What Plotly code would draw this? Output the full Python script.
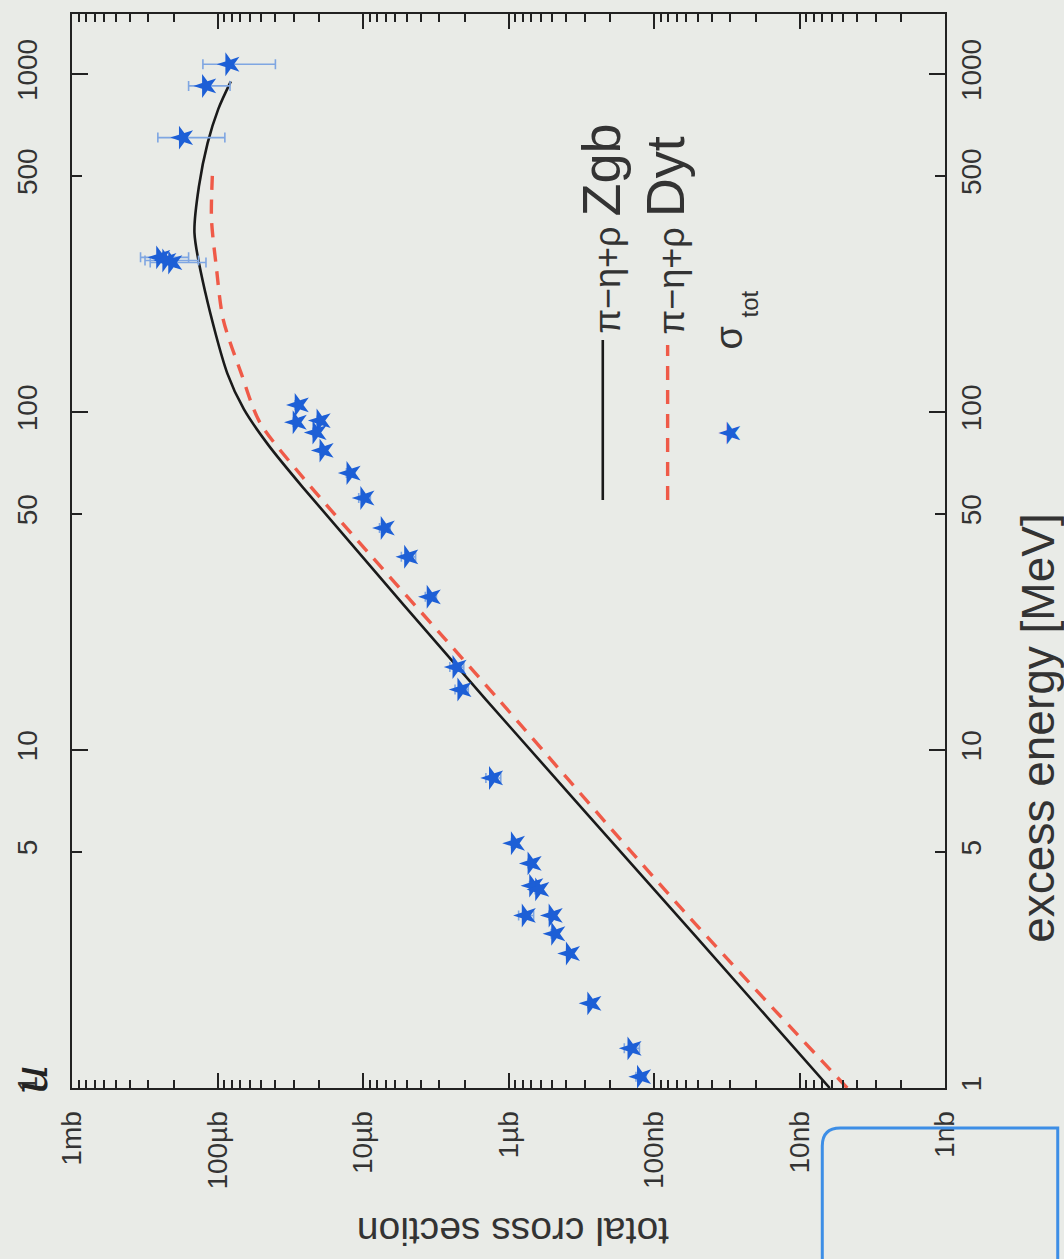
import plotly.graph_objects as go

# ---------------- data (cross sections in microbarn, energies in MeV) ----------------
data_energy = [1070, 923, 649, 287, 281, 277, 105, 93.3, 94.4, 87, 77, 66, 55.7, 45.4,
               37.3, 28.4, 17.6, 15.1, 8.27, 5.30, 4.62, 3.97, 3.87, 3.24, 3.24, 2.86,
               2.50, 1.78, 1.31, 1.08]
data_sigma = [83, 120, 173, 248, 225, 205, 27.7, 28.6, 19.6, 20.9, 18.7, 12.2, 9.8, 7.1,
              4.9, 3.43, 2.28, 2.11, 1.28, 0.905, 0.695, 0.677, 0.616, 0.762, 0.498, 0.478,
              0.379, 0.270, 0.143, 0.123]
data_err = [43, 38, 84, 90, 90, 85, 1.6, 1.6, 1.1, 1.2, 1.1, 0.8, 0.9, 0.6,
            0.55, 0.3, 0.25, 0.22, 0.15, 0.05, 0.04, 0.04, 0.04, 0.09, 0.03, 0.03,
            0.02, 0.015, 0.017, 0.01]

zgb_energy = [1, 2.82, 14.1, 60, 80, 102, 130, 225, 339, 467, 625, 788, 952]
zgb_sigma = [0.0062, 0.052, 1.43, 26.0, 44.8, 65.9, 85.5, 121, 144, 134, 117, 98.8, 81]

dyt_energy = [1, 3.37, 14.4, 64.1, 93.6, 130, 188, 270, 373, 524]
dyt_sigma = [0.0047, 0.0637, 1.22, 25.9, 51.4, 68.6, 91.4, 102, 110, 108]

sigma_ticks = [1000, 100, 10, 1, 0.1, 0.01, 0.001]
sigma_labels = ["1mb", "100µb", "10µb", "1µb", "100nb", "10nb", "1nb"]
sigma_minor = [m * 10.0 ** d for d in range(-3, 3) for m in range(2, 10)]

energy_ticks = [1, 5, 10, 50, 100, 500, 1000]
energy_labels = ["1", "5", "10", "50", "100", "500", "1000"]
energy_major = [1, 10, 100, 1000]

# ---------------- style ----------------
FONT = "Liberation Sans, Arial, sans-serif"
BG = "#e9ebe7"
TXT = "#333333"
BLUE = "#1d5fd6"
RED = "#ef5a48"

W, H = 1064, 1259
ML, MR, MT, MB = 70, 119, 14, 171
PW, PH = W - ML - MR, H - MT - MB


def px(x):
    return (x - ML) / PW


def py(y):
    return (H - MB - y) / PH


fig = go.Figure()

fig.add_trace(go.Scatter(
    x=zgb_sigma, y=zgb_energy, mode="lines",
    line=dict(color="#1a1a1a", width=2.6, shape="spline", smoothing=0.8),
    hoverinfo="skip"))

fig.add_trace(go.Scatter(
    x=dyt_sigma, y=dyt_energy, mode="lines",
    line=dict(color=RED, width=3.4, dash="14px,10px", shape="spline", smoothing=0.8),
    hoverinfo="skip"))

fig.add_trace(go.Scatter(
    x=data_sigma, y=data_energy, mode="markers",
    marker=dict(symbol="star", size=18, color=BLUE, angle=-90, line=dict(width=0)),
    error_x=dict(type="data", array=data_err, visible=True, color="#7fa6e2",
                 thickness=1.6, width=5)))

axis_common = dict(showgrid=False, zeroline=False, type="log")

fig.update_layout(
    width=W, height=H,
    margin=dict(l=ML, r=MR, t=MT, b=MB, pad=0),
    paper_bgcolor=BG, plot_bgcolor=BG,
    showlegend=False,
    font=dict(family=FONT, color=TXT, size=28),
    xaxis=dict(
        **axis_common, range=[3, -3],
        tickmode="array", tickvals=sigma_ticks, ticktext=sigma_labels,
        tickangle=-90, ticks="inside", ticklen=15, tickwidth=1.8, tickcolor="#222",
        ticklabelstandoff=10,
        minor=dict(tickmode="array", tickvals=sigma_minor, ticks="inside",
                   ticklen=8, tickwidth=1.5, tickcolor="#222"),
        showline=True, linecolor="#222", linewidth=2, mirror="ticks",
        tickfont=dict(size=28, color=TXT, family=FONT)),
    yaxis=dict(
        **axis_common, range=[0, 3.178], side="right",
        tickmode="array", tickvals=energy_ticks, ticktext=energy_labels,
        tickangle=-90, ticks="inside", ticklen=10, tickwidth=1.8, tickcolor="#222",
        ticklabelstandoff=0,
        showline=True, linecolor="#222", linewidth=2, mirror="ticks",
        tickfont=dict(size=28, color=TXT, family=FONT)),
    yaxis2=dict(
        **axis_common, range=[0, 3.178], overlaying="y", side="right",
        tickmode="array", tickvals=energy_major, showticklabels=False,
        ticks="inside", ticklen=16, tickwidth=1.8, tickcolor="#222",
        showline=False, mirror="ticks"),
    yaxis3=dict(
        **axis_common, range=[0, 3.178], overlaying="y", side="left",
        tickmode="array", tickvals=energy_ticks, ticktext=energy_labels,
        tickangle=-90, ticks="", showline=False, ticklabelstandoff=28,
        tickfont=dict(size=28, color=TXT, family=FONT)),
)

# invisible traces that attach the overlay axes
fig.add_trace(go.Scatter(x=[zgb_sigma[0]], y=[zgb_energy[0]], yaxis="y2", mode="markers",
                         marker=dict(opacity=0), hoverinfo="skip"))
fig.add_trace(go.Scatter(x=[zgb_sigma[0]], y=[zgb_energy[0]], yaxis="y3", mode="markers",
                         marker=dict(opacity=0), hoverinfo="skip"))


def ann(text, x, y, size, angle=-90, color=TXT, family=FONT):
    return dict(text=text, x=px(x), y=py(y), xref="paper", yref="paper",
                xanchor="center", yanchor="middle", showarrow=False,
                textangle=angle, font=dict(size=size, color=color, family=family))


annotations = [
    ann("total cross section", 512, 1232, 39, angle=180),
    ann("excess energy [MeV]", 1038, 728, 46),
    ann("π−η+ρ <span style='font-size:54px'>Zgb</span>", 600, 229, 36),
    ann("π−η+ρ <span style='font-size:54px'>Dyt</span>", 664, 236, 36),
    ann("σ", 729, 338, 38),
    ann("tot", 749, 304, 24),
    ann("★", 730, 433, 30, color=BLUE, family="DejaVu Sans"),
    ann("<i>u</i>", 28, 1080, 48, color="#222", family="DejaVu Serif"),
]
fig.update_layout(annotations=annotations)

shapes = [
    dict(type="line", xref="paper", yref="paper", x0=px(602), x1=px(602),
         y0=py(500), y1=py(340), line=dict(color="#1a1a1a", width=2.6)),
    dict(type="line", xref="paper", yref="paper", x0=px(667), x1=px(667),
         y0=py(500), y1=py(345), line=dict(color=RED, width=3.4, dash="14px,10px")),
    dict(type="path", xref="paper", yref="paper",
         path=f"M {px(822)},{py(1265)} L {px(822)},{py(1146)} Q {px(822)},{py(1128)} {px(840)},{py(1128)} "
              f"L {px(1058)},{py(1128)} L {px(1058)},{py(1265)}",
         line=dict(color="#3d8ee6", width=3)),
]
fig.update_layout(shapes=shapes)

fig.write_html("out.html")
